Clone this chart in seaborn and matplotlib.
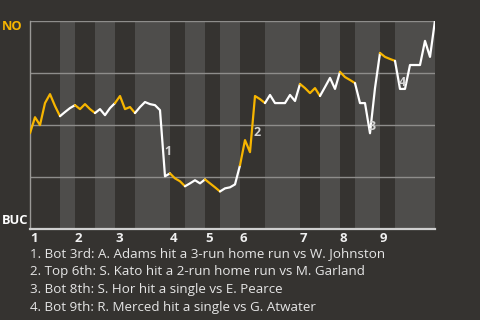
import matplotlib
matplotlib.use("Agg")
import matplotlib.pyplot as plt
import numpy as np
import pandas as pd
import seaborn as sns

# ---------------- data ----------------
innings = ["1", "2", "3", "4", "5", "6", "7", "8", "9"]
half_inning_pas = [6, 3, 4, 4, 4, 7, 3, 4, 3, 4, 5, 7, 4, 4, 3, 5, 3, 8]
win_prob = [
    45.8, 53.5, 49.7, 60.3, 64.6, 58.9,
    54.0, 56.0, 57.9,
    59.3, 57.4, 59.8, 57.4,
    55.5, 57.4, 54.5, 57.9,
    60.3, 63.7, 57.4, 58.4,
    55.5, 58.4, 60.8, 59.8, 59.3, 56.9, 25.1,
    26.5, 24.1, 22.7,
    20.3, 21.7, 23.2, 21.7,
    23.6, 21.7, 19.8,
    17.8, 19.3, 19.8, 21.2,
    30.4, 42.5, 36.7, 63.7, 62.2,
    60.3, 64.2, 60.3, 60.3, 60.3, 64.2, 61.3,
    69.5, 67.5, 65.1, 67.5,
    63.7, 68.0, 72.4, 67.1,
    75.3, 72.8, 71.4,
    69.9, 60.3, 60.3, 45.8, 67.5,
    84.4, 82.5, 81.5,
    80.6, 67.1, 67.1, 78.6, 78.6, 78.6, 90.2, 82.5,
    100.0,
]
event_marks = ["1", "2", "3", "4"]
event_segments = [26, 44, 67, 73]
event_texts = [
    "1. Bot 3rd: A. Adams hit a 3-run home run vs W. Johnston",
    "2. Top 6th: S. Kato hit a 2-run home run vs M. Garland",
    "3. Bot 8th: S. Hor hit a single vs E. Pearce",
    "4. Bot 9th: R. Merced hit a single vs G. Atwater",
]
team_top = "NO"
team_bottom = "BUC"

# ---------------- style ----------------
BG = "#353330"
BAND = "#4e4d4b"
GOLD = "#f7b500"
WHITE = "#ffffff"
FONT = ["Open Sans", "DejaVu Sans"]

sns.set_theme(style="dark")
plt.rcParams["font.family"] = FONT

fig = plt.figure(figsize=(4.8, 3.2), dpi=100, facecolor=BG)
ax = fig.add_axes([30 / 480, 1 - 228.5 / 320, 405 / 480, 208 / 320])
ax.set_facecolor(BG)

starts = np.concatenate([[0], np.cumsum(half_inning_pas)])
n_pts = len(win_prob)
df = pd.DataFrame({"pa": np.arange(n_pts), "wp": win_prob})

# bands for bottom halves
for h in range(len(half_inning_pas)):
    if h % 2 == 1:
        ax.axvspan(starts[h], starts[h + 1], color=BAND, lw=0, zorder=0)

# gridlines
for g in [25, 50, 75, 100]:
    ax.axhline(g, color="#8e8d8b", lw=1.0, zorder=1)

# line segments per half inning
for h in range(len(half_inning_pas)):
    seg = df.iloc[starts[h]:starts[h + 1] + 1]
    sns.lineplot(data=seg, x="pa", y="wp", ax=ax, sort=False, estimator=None,
                 color=GOLD if h % 2 == 0 else WHITE, lw=1.6, zorder=3)

# event marks
for mark, s in zip(event_marks, event_segments):
    xm = s + 0.5
    ym = (win_prob[s] + win_prob[s + 1]) / 2
    ax.annotate(mark, (xm, ym), xytext=(5, -8), textcoords="offset pixels",
                ha="center", va="center", color="#d6d6d6", fontsize=9,
                fontweight="bold", zorder=4)

ax.set_xlim(0, n_pts - 1)
ax.set_ylim(0, 100)
ax.set_xlabel("")
ax.set_ylabel("")
ax.set_yticks([])
ax.set_xticks(starts[0:-1:2])
ax.set_xticklabels(innings, color="#f0f0f0", fontsize=9.5, fontweight="bold")
for lab in ax.get_xticklabels():
    lab.set_ha("left")
ax.tick_params(axis="x", length=0, pad=2.5)
ax.grid(False)
for side in ["top", "right"]:
    ax.spines[side].set_visible(False)
ax.spines["left"].set_color("#9a9996")
ax.spines["left"].set_linewidth(1.0)
ax.spines["bottom"].set_color("#cfcfcf")
ax.spines["bottom"].set_linewidth(1.6)

fig.text(2 / 480, 1 - 27 / 320, team_top, color=GOLD, fontsize=9.3,
         fontweight="bold", ha="left", va="center")
fig.text(2 / 480, 1 - 221 / 320, team_bottom, color=WHITE, fontsize=9.3,
         fontweight="bold", ha="left", va="center")

for k, t in enumerate(event_texts):
    fig.text(30 / 480, 1 - (254 + 18 * k) / 320, t, color="#e6e6e6",
             fontsize=9.6, ha="left", va="center")

fig.savefig("out.png", dpi=100, facecolor=BG)
